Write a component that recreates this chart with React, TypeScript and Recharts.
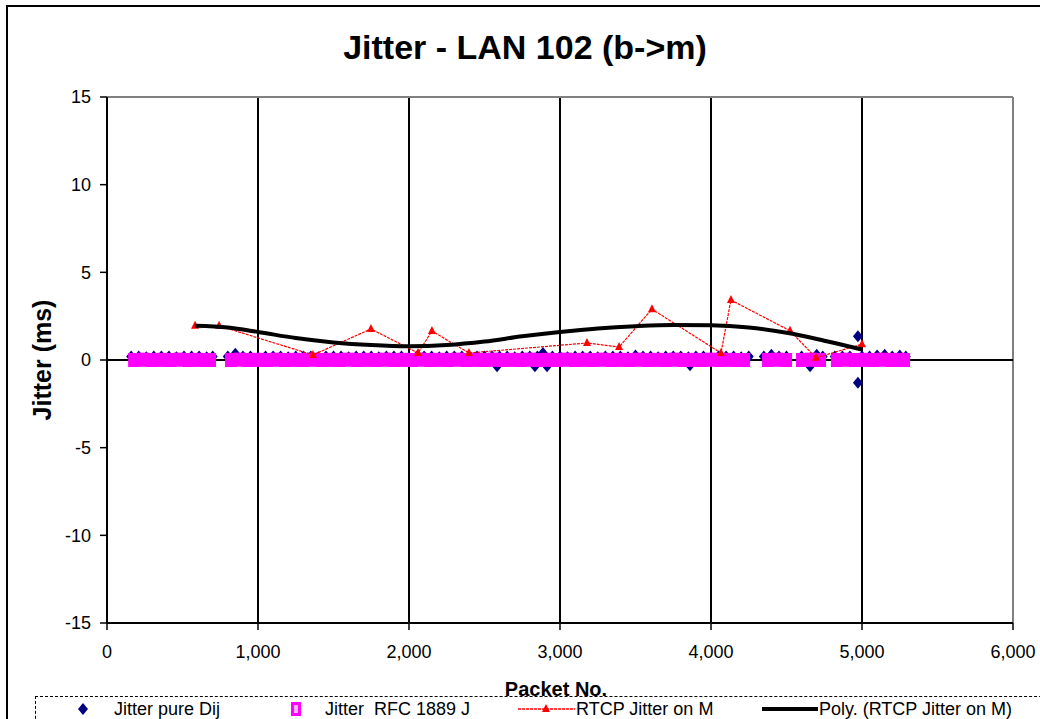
import React from "react";
import {
  ComposedChart,
  Scatter,
  XAxis,
  YAxis,
  CartesianGrid,
  ReferenceLine,
} from "recharts";

const FONT = 'Arial, "Liberation Sans", sans-serif';

const xTicks = [0, 1000, 2000, 3000, 4000, 5000, 6000];
const yTicks = [-15, -10, -5, 0, 5, 10, 15];

// Jitter pure Dij (navy diamonds): [packet no., jitter ms]
const dijPoints: [number, number][] = [
  [160, 0.2], [210, 0.2], [260, 0.15], [310, 0.2], [360, 0.2], [410, 0.2],
  [460, 0.15], [510, 0.2], [560, 0.2], [610, 0.2], [660, 0.15], [700, 0.2],
  [800, 0.2], [850, 0.35], [900, 0.2], [950, 0.2], [1000, 0.15], [1050, 0.2],
  [1100, 0.2], [1150, 0.2], [1200, 0.15], [1250, 0.2], [1300, 0.2], [1350, 0.2],
  [1400, 0.15], [1450, 0.2], [1500, 0.2], [1550, 0.2], [1600, 0.15], [1650, 0.2],
  [1700, 0.2], [1750, 0.2], [1800, 0.15], [1850, 0.2], [1900, 0.2], [1950, 0.2],
  [2000, 0.15], [2050, 0.2], [2100, 0.2], [2150, 0.2], [2200, 0.15], [2250, 0.2],
  [2300, 0.2], [2350, 0.2], [2400, 0.15], [2450, 0.2], [2500, 0.2], [2550, 0.2],
  [2583, -0.35], [2600, 0.2], [2650, 0.2], [2700, 0.15], [2750, 0.2], [2800, 0.2],
  [2834, -0.35], [2850, 0.2], [2887, 0.4], [2914, -0.35], [2950, 0.2], [3000, 0.2],
  [3050, 0.15], [3100, 0.2], [3150, 0.2], [3200, 0.2], [3250, 0.15], [3300, 0.2],
  [3350, 0.2], [3400, 0.2], [3450, 0.15], [3500, 0.25], [3550, 0.2], [3600, 0.2],
  [3650, 0.15], [3700, 0.2], [3750, 0.2], [3800, 0.2], [3850, 0.15], [3861, -0.3],
  [3900, 0.2], [3950, 0.2], [4000, 0.15], [4050, 0.2], [4100, 0.2], [4150, 0.2],
  [4200, 0.15], [4250, 0.2],
  [4350, 0.2], [4400, 0.3], [4450, 0.2], [4500, 0.2],
  [4600, 0.2], [4656, -0.35], [4700, 0.3], [4740, 0.2],
  [4820, 0.2], [4870, 0.2], [4920, 0.2], [4973, 1.35], [4973, -1.3], [5000, 0.2],
  [5050, 0.2], [5100, 0.25], [5150, 0.3], [5200, 0.2], [5250, 0.25], [5290, 0.2],
];

// Jitter RFC 1889 J (magenta squares)
const rfcPoints: [number, number][] = [
  [180, 0], [240, 0.02], [300, 0], [360, 0.01], [420, 0], [480, 0.02], [540, 0],
  [600, 0.01], [660, 0], [682, 0],
  [821, 0], [880, 0.02], [940, 0], [1000, 0.01], [1060, 0], [1120, 0.02],
  [1180, 0], [1240, 0.01], [1300, 0], [1360, 0.02], [1420, 0], [1480, 0.01],
  [1540, 0], [1600, 0.02], [1660, 0], [1720, 0.01], [1780, 0], [1840, 0.02],
  [1900, 0], [1960, 0.01], [2020, 0], [2080, 0.02], [2140, 0], [2200, 0.01],
  [2260, 0], [2320, 0.02], [2380, 0], [2440, 0.01], [2500, 0], [2560, 0.02],
  [2620, 0], [2680, 0.01], [2740, 0], [2800, 0.02], [2860, 0], [2920, 0.01],
  [2980, 0], [3040, 0.02], [3100, 0], [3160, 0.01], [3220, 0], [3280, 0.02],
  [3340, 0], [3400, 0.01], [3460, 0], [3520, 0.02], [3580, 0], [3640, 0.01],
  [3700, 0], [3760, 0.02], [3820, 0], [3880, 0.01], [3940, 0], [4000, 0.02],
  [4060, 0], [4120, 0.01], [4180, 0], [4219, 0],
  [4377, 0], [4437, 0.02], [4497, 0],
  [4603, 0], [4663, 0.02], [4722, 0],
  [4834, 0], [4894, 0.02], [4954, 0], [5014, 0.01], [5074, 0], [5134, 0.02],
  [5194, 0], [5254, 0.01], [5278, 0],
];

// RTCP Jitter on M (red triangles, dashed line)
const rtcpPoints: [number, number][] = [
  [583, 1.95], [742, 1.95], [1364, 0.29], [1748, 1.77], [2060, 0.4], [2152, 1.65],
  [2397, 0.4], [3179, 0.97], [3391, 0.74], [3609, 2.9], [4066, 0.4], [4132, 3.42],
  [4523, 1.67], [4695, 0.13], [5000, 0.9],
];

// Poly. (RTCP Jitter on M) trendline
const polyPoints: [number, number][] = [
  [583, 1.95], [800, 1.85], [1000, 1.6], [1250, 1.25], [1500, 1.0], [1750, 0.85],
  [2000, 0.78], [2250, 0.85], [2500, 1.05], [2750, 1.35], [3000, 1.6], [3250, 1.8],
  [3500, 1.93], [3750, 2.0], [4000, 1.98], [4250, 1.85], [4500, 1.55], [4750, 1.1],
  [5000, 0.6],
];

const toData = (pts: [number, number][]) => pts.map(([x, y]) => ({ x, y }));

const dijData = toData(dijPoints);
const rfcData = toData(rfcPoints);
const rtcpData = toData(rtcpPoints);
const polyData = toData(polyPoints);

const Diamond = (p: any) => (
  <polygon
    points={`${p.cx},${p.cy - 6} ${p.cx + 5},${p.cy} ${p.cx},${p.cy + 6} ${p.cx - 5},${p.cy}`}
    fill="#000080"
  />
);

const Square = (p: any) => (
  <rect
    x={p.cx - 5.5}
    y={p.cy - 6.5}
    width={11}
    height={13}
    fill="#ff00ff"
    stroke="#ff00ff"
    strokeWidth={1}
  />
);

const Triangle = (p: any) => (
  <polygon
    points={`${p.cx},${p.cy - 5} ${p.cx + 4},${p.cy + 3} ${p.cx - 4},${p.cy + 3}`}
    fill="#ff0000"
  />
);

const NoDot = () => <g />;

function LegendBox() {
  const text: React.CSSProperties = {
    position: "absolute",
    top: 698,
    fontSize: 18,
    lineHeight: "22px",
    whiteSpace: "pre",
    color: "#000",
  };
  return (
    <>
      <div
        style={{
          position: "absolute",
          left: 35,
          top: 696,
          width: 1100,
          height: 100,
          border: "1px dashed #000",
        }}
      />
      <svg style={{ position: "absolute", left: 0, top: 690 }} width={1040} height={29}>
        <polygon points="83,13 88,19 83,25 78,19" fill="#000080" />
        <rect x={291} y={12} width={10} height={14} fill="#ff00ff" />
        <rect x={294} y={15} width={4} height={8} fill="#ffb0ff" />
        <line x1={518} y1={19} x2={575} y2={19} stroke="#ff0000" strokeWidth={1.5} strokeDasharray="3 1" />
        <polygon points="546,14 550,22 542,22" fill="#ff0000" />
        <line x1={762} y1={19} x2={818} y2={19} stroke="#000" strokeWidth={4} />
      </svg>
      <div style={{ ...text, left: 114 }}>Jitter pure Dij</div>
      <div style={{ ...text, left: 325 }}>{"Jitter  RFC 1889 J"}</div>
      <div style={{ ...text, left: 576 }}>RTCP Jitter on M</div>
      <div style={{ ...text, left: 819 }}>Poly. (RTCP Jitter on M)</div>
    </>
  );
}

export default function App() {
  return (
    <div
      style={{
        position: "absolute",
        left: 0,
        top: 0,
        width: 1040,
        height: 719,
        overflow: "hidden",
        background: "#fff",
        fontFamily: FONT,
      }}
    >
      <div
        style={{
          position: "absolute",
          left: 6,
          top: 5,
          width: 1100,
          height: 800,
          border: "2px solid #000",
        }}
      />
      <div
        style={{
          position: "absolute",
          left: 0,
          top: 28,
          width: 1050,
          textAlign: "center",
          fontSize: 34,
          lineHeight: "38px",
          fontWeight: "bold",
        }}
      >
        Jitter - LAN 102 (b-&gt;m)
      </div>
      <div
        style={{
          position: "absolute",
          left: 42,
          top: 360,
          transform: "translate(-50%, -50%) rotate(-90deg)",
          fontSize: 25,
          fontWeight: "bold",
          whiteSpace: "nowrap",
        }}
      >
        Jitter (ms)
      </div>
      <div style={{ position: "absolute", left: 0, top: 0 }}>
        <ComposedChart
          width={1040}
          height={719}
          margin={{ top: 97, right: 27, bottom: 66, left: 47 }}
          style={{ fontFamily: FONT }}
        >
          <CartesianGrid horizontal={false} stroke="#000" strokeWidth={2} />
          <XAxis
            type="number"
            dataKey="x"
            domain={[0, 6000]}
            ticks={xTicks}
            height={30}
            tickSize={7}
            tickMargin={15}
            tick={{ fontSize: 18, fill: "#000" }}
            tickLine={{ stroke: "#000", strokeWidth: 1.5 }}
            axisLine={{ stroke: "#000", strokeWidth: 2 }}
            tickFormatter={(v: number) => v.toLocaleString("en-US")}
            allowDataOverflow
          />
          <YAxis
            type="number"
            dataKey="y"
            domain={[-15, 15]}
            ticks={yTicks}
            width={60}
            tickSize={7}
            tickMargin={9}
            tick={{ fontSize: 18, fill: "#000" }}
            tickLine={{ stroke: "#000", strokeWidth: 1.5 }}
            axisLine={{ stroke: "#000", strokeWidth: 2 }}
            allowDataOverflow
          />
          <ReferenceLine y={15} stroke="#808080" strokeWidth={2} />
          <ReferenceLine x={6000} stroke="#808080" strokeWidth={2} />
          <ReferenceLine y={0} stroke="#000" strokeWidth={2} />
          <Scatter name="Jitter pure Dij" data={dijData} shape={Diamond} isAnimationActive={false} />
          <Scatter name="Jitter  RFC 1889 J" data={rfcData} shape={Square} isAnimationActive={false} />
          <Scatter
            name="RTCP Jitter on M"
            data={rtcpData}
            shape={Triangle}
            line={{ stroke: "#ff0000", strokeWidth: 1.2, strokeDasharray: "3 1" }}
            isAnimationActive={false}
          />
          <Scatter
            name="Poly. (RTCP Jitter on M)"
            data={polyData}
            shape={NoDot}
            line={{ stroke: "#000", strokeWidth: 4 }}
            lineJointType="monotoneX"
            isAnimationActive={false}
          />
        </ComposedChart>
      </div>
      <div
        style={{
          position: "absolute",
          left: 0,
          top: 677,
          width: 1112,
          textAlign: "center",
          fontSize: 20,
          lineHeight: "24px",
          fontWeight: "bold",
        }}
      >
        Packet No.
      </div>
      <LegendBox />
    </div>
  );
}
